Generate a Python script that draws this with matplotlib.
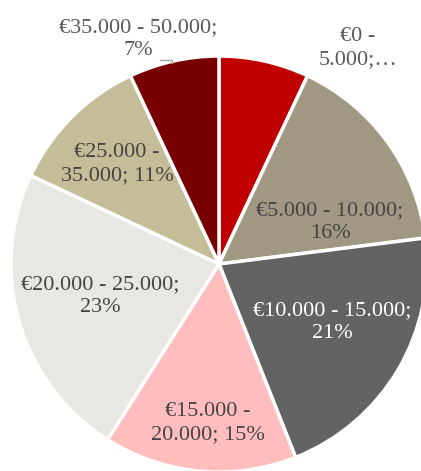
import matplotlib
matplotlib.use("Agg")
import matplotlib.pyplot as plt

categories = ["€0 - 5.000", "€5.000 - 10.000", "€10.000 - 15.000", "€15.000 - 20.000",
              "€20.000 - 25.000", "€25.000 - 35.000", "€35.000 - 50.000"]
values = [7, 16, 21, 15, 23, 11, 7]
colors = ["#C00000", "#A09882", "#636363", "#FFBDBD", "#E9E7E3", "#C5BD97", "#780000"]
label_texts = ["€0 -\n5.000;…", "€5.000 - 10.000;\n16%", "€10.000 - 15.000;\n21%",
               "€15.000 -\n20.000; 15%", "€20.000 - 25.000;\n23%", "€25.000 -\n35.000; 11%",
               "€35.000 - 50.000;\n7%"]
label_colors = ["#595959", "#454545", "#FFFFFF", "#454545", "#454545", "#454545", "#595959"]
# label positions in pixel coords (x, y from top)
label_pos = [(358, 48), (330, 222), (332, 322), (208, 423), (100, 296), (117, 164), (138, 39)]

W, H = 421, 471
fig = plt.figure(figsize=(W / 100, H / 100), dpi=100)
ax = fig.add_axes([0, 0, 1, 1])

cx, cy, r = 219, H - 264, 208
ax.pie(values, colors=colors, startangle=90, counterclock=False, center=(cx, cy), radius=r,
       wedgeprops=dict(edgecolor="white", linewidth=2.5), frame=True)
ax.set_xlim(0, W)
ax.set_ylim(0, H)
ax.set_aspect("equal")
ax.axis("off")

for t, (x, y), c in zip(label_texts, label_pos, label_colors):
    ax.text(x, H - y, t, ha="center", va="center", fontsize=16, color=c,
            family="Liberation Serif", linespacing=1.3)

# leader line for last label
ax.plot([160, 172, 172], [H - 60, H - 60, H - 63], color="#A6A6A6", lw=1)

fig.savefig("out.png", dpi=100)
